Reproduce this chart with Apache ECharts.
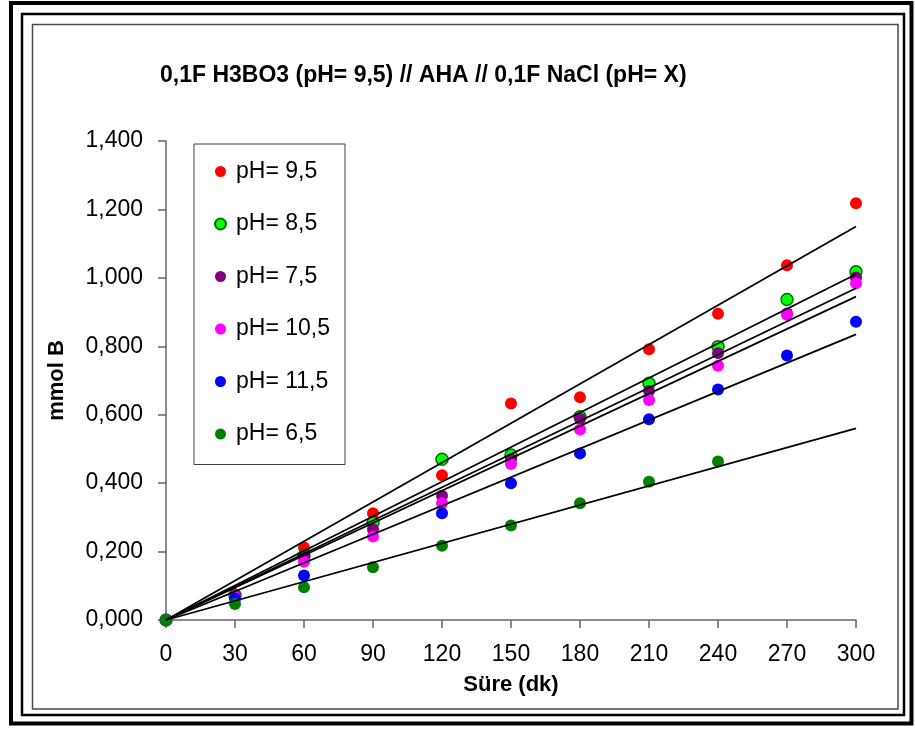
<!DOCTYPE html>
<html>
<head>
    <meta charset="utf-8">
    <title>mmol B</title>
    <script src="https://cdn.jsdelivr.net/npm/echarts@6/dist/echarts.min.js"></script>
    <style>
        html, body { margin: 0; padding: 0; background: #fff; }
        #chart1 { width: 915px; height: 733px; }
    </style>
</head>
<body>
<div id="chart1"></div>
<script type="text/javascript">
    // süre (dk)
    var times = [0, 30, 60, 90, 120, 150, 180, 210, 240, 270, 300];
    var xTicks = [0, 30, 60, 90, 120, 150, 180, 210, 240, 270, 300];
    var yTicks = [0, 0.2, 0.4, 0.6, 0.8, 1.0, 1.2, 1.4];

    // mmol B, okunan degerler
    var ph95 = [0, 0.075, 0.212, 0.312, 0.423, 0.633, 0.651, 0.791, 0.895, 1.037, 1.218];
    var ph85 = [0, 0.072, 0.188, 0.284, 0.470, 0.482, 0.594, 0.692, 0.799, 0.937, 1.018];
    var ph75 = [0, 0.070, 0.184, 0.265, 0.363, 0.470, 0.588, 0.669, 0.780, 0.896, 1.001];
    var ph105 = [0, 0.068, 0.170, 0.244, 0.341, 0.456, 0.557, 0.643, 0.743, 0.892, 0.984];
    var ph115 = [0, 0.063, 0.130, null, 0.312, 0.400, 0.487, 0.587, 0.674, 0.773, 0.872];
    var ph65 = [0, 0.047, 0.096, 0.154, 0.217, 0.276, 0.341, 0.404, 0.463, null, null];

    var names = ['pH= 9,5', 'pH= 8,5', 'pH= 7,5', 'pH= 10,5', 'pH= 11,5', 'pH= 6,5'];
    var colors = ['#ff0000', '#00ff00', '#800080', '#ff00ff', '#0000ff', '#008000'];
    var values = [ph95, ph85, ph75, ph105, ph115, ph65];

    // trend cizgilerinin 300 dk'daki degeri (resimden)
    var trendEnd = [1.150, 1.0105, 0.9695, 0.945, 0.835, 0.560];

    var font = '"Liberation Sans", Arial, sans-serif';

    function pairs(ys) {
        var out = [];
        for (var i = 0; i < times.length; i++) {
            if (ys[i] !== null) out.push([times[i], ys[i]]);
        }
        return out;
    }

    var series = [];
    for (var i = 0; i < names.length; i++) {
        series.push({
            name: names[i],
            type: 'scatter',
            symbol: 'circle',
            symbolSize: 12,
            itemStyle: {
                color: colors[i],
                borderColor: i === 1 ? '#007000' : colors[i],
                borderWidth: i === 1 ? 1.5 : 0,
                opacity: 1
            },
            data: pairs(values[i])
        });
    }
    for (var j = 0; j < trendEnd.length; j++) {
        series.push({
            name: 'trend' + j,
            type: 'line',
            showSymbol: false,
            silent: true,
            z: 5,
            lineStyle: { color: '#000', width: 1.8 },
            data: [[xTicks[0], 0], [xTicks[xTicks.length - 1], trendEnd[j]]]
        });
    }

    var myChart1 = echarts.init(document.getElementById('chart1'));
    myChart1.setOption({
        animation: false,
        backgroundColor: '#fff',
        textStyle: { fontFamily: font },
        title: {
            text: '0,1F H3BO3 (pH= 9,5) // AHA // 0,1F NaCl (pH= X)',
            left: 160,
            top: 64,
            padding: 0,
            textStyle: { fontFamily: font, fontSize: 23, fontWeight: 'bold', color: '#000' }
        },
        graphic: [
            { type: 'rect', shape: { x: 11, y: 3, width: 900.5, height: 720.5 }, style: { fill: null, stroke: '#000', lineWidth: 4 } },
            { type: 'rect', shape: { x: 22, y: 14, width: 882, height: 701 }, style: { fill: null, stroke: '#000', lineWidth: 2.5 } },
            { type: 'rect', shape: { x: 32.5, y: 24.5, width: 865.5, height: 684.5 }, style: { fill: null, stroke: '#4a4a4a', lineWidth: 1.5 } }
        ],
        legend: {
            data: names,
            orient: 'vertical',
            left: 194,
            top: 144,
            padding: [16, 15, 19, 20],
            itemGap: 29.5,
            itemWidth: 11,
            itemHeight: 11,
            borderColor: '#404040',
            borderWidth: 1,
            backgroundColor: '#fff',
            textStyle: { fontFamily: font, fontSize: 23, color: '#000', padding: [0, 0, 0, 5] }
        },
        grid: { left: 166, right: 59, top: 141, bottom: 113 },
        xAxis: {
            type: 'value',
            min: xTicks[0],
            max: xTicks[xTicks.length - 1],
            interval: 30,
            name: 'Süre (dk)',
            nameLocation: 'middle',
            nameGap: 54,
            nameTextStyle: { fontFamily: font, fontSize: 22, fontWeight: 'bold', color: '#000' },
            splitLine: { show: false },
            axisLine: { lineStyle: { color: '#666', width: 1.5 } },
            axisTick: { length: 8, lineStyle: { color: '#666', width: 1.5 } },
            axisLabel: { margin: 23, fontFamily: font, fontSize: 23, color: '#000' }
        },
        yAxis: {
            type: 'value',
            min: yTicks[0],
            max: yTicks[yTicks.length - 1],
            interval: 0.2,
            name: 'mmol B',
            nameLocation: 'middle',
            nameGap: 98,
            nameTextStyle: { fontFamily: font, fontSize: 22, fontWeight: 'bold', color: '#000' },
            splitLine: { show: false },
            axisLine: { show: true, lineStyle: { color: '#666', width: 1.5 } },
            axisTick: { show: true, length: 8, lineStyle: { color: '#666', width: 1.5 } },
            axisLabel: {
                margin: 23,
                fontFamily: font,
                fontSize: 23,
                color: '#000',
                formatter: function (v) { return v.toFixed(3).replace('.', ','); }
            }
        },
        series: series
    });
</script>
</body>
</html>
